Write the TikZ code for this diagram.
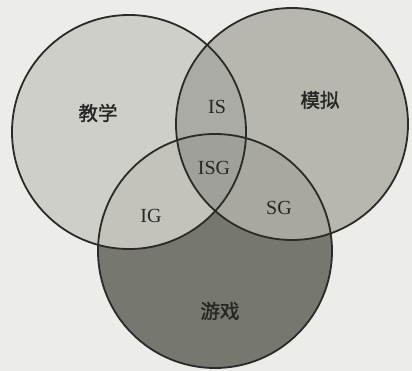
\documentclass[tikz,border=0pt]{standalone}
\usepackage{fontspec}
\setmainfont{Liberation Serif}
\newfontfamily\cjk[FakeBold=1.5]{Noto Sans CJK SC}
\definecolor{bgc}{HTML}{ECECE8}
\definecolor{icol}{HTML}{CFCFC9}
\definecolor{scol}{HTML}{B7B7B0}
\definecolor{gcol}{HTML}{76776F}
\definecolor{iscol}{HTML}{ABABA5}
\definecolor{igcol}{HTML}{C3C3BC}
\definecolor{sgcol}{HTML}{A8A8A1}
\definecolor{isgcol}{HTML}{A0A09A}
\definecolor{linec}{HTML}{2A2A28}
\begin{document}
\begin{tikzpicture}[x=1pt,y=-1pt,
  ring/.style={draw=linec,line width=1.8pt},
  lab/.style={font=\fontsize{20}{20}\selectfont,text=linec!90!black},
  cjklab/.style={font=\cjk\fontsize{19.5}{20}\selectfont,text=linec!90!black}]
\useasboundingbox (0,0) rectangle (412,371);
\fill[bgc] (0,0) rectangle (412,371);
\coordinate (ci) at (129,132);
\coordinate (cs) at (292,124);
\coordinate (cg) at (215,251);
\def\ri{117}
\def\rs{116}
\def\rg{117}
\fill[icol] (ci) circle (\ri);
\fill[scol] (cs) circle (\rs);
\fill[gcol] (cg) circle (\rg);
\begin{scope}
  \clip (ci) circle (\ri);
  \fill[iscol] (cs) circle (\rs);
  \fill[igcol] (cg) circle (\rg);
  \clip (cs) circle (\rs);
  \fill[isgcol] (cg) circle (\rg);
\end{scope}
\begin{scope}
  \clip (cs) circle (\rs);
  \clip (cg) circle (\rg);
  \path[clip] (0,0) rectangle (412,371);
  \fill[sgcol, even odd rule] (ci) circle (\ri) (-10,-10) rectangle (420,380);
\end{scope}
\draw[ring] (ci) circle (\ri);
\draw[ring] (cs) circle (\rs);
\draw[ring] (cg) circle (\rg);
\node[cjklab] (ti) at (98,113) {教学};
\node[cjklab] (ts) at (320,100) {模拟};
\node[cjklab] (tg) at (220,311) {游戏};
\node[lab] (tis) at (217,107) {IS};
\node[lab] (tisg) at (214,168) {ISG};
\node[lab] (tig) at (151,216) {IG};
\node[lab] (tsg) at (279,208) {SG};
\end{tikzpicture}
\end{document}
